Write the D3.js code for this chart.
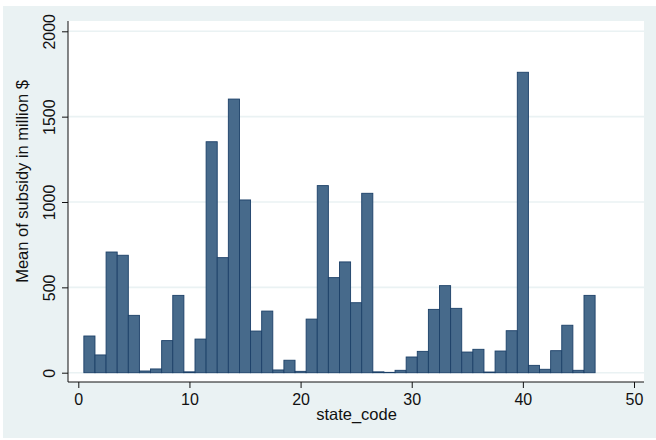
<!DOCTYPE html>
<html>
<head>
<meta charset="utf-8">
<script src="https://cdn.jsdelivr.net/npm/d3@7"></script>
<style>
  body { margin: 0; background: #fff; }
  text { font-family: "Liberation Sans", Arial, sans-serif; fill: #111; }
</style>
</head>
<body>
<div id="chart"></div>
<script>
const stateCodes = d3.range(1, 47);
const meanSubsidy = [
    215, 104, 707, 688, 336, 10, 22, 188, 453, 5,
    197, 1353, 674, 1603, 1012, 244, 361, 16, 73, 8,
    314, 1096, 557, 649, 410, 1051, 5, 2, 14, 92,
    125, 371, 510, 377, 121, 137, 4, 127, 246, 1760,
    43, 20, 129, 278, 14, 453
];
const xTicks = [0, 10, 20, 30, 40, 50];
const yTicks = [0, 500, 1000, 1500, 2000];

const width = 656, height = 440;

const svg = d3.select("#chart")
    .append("svg")
    .attr("width", width)
    .attr("height", height);

// graph region
svg.append("rect")
    .attr("x", 3).attr("y", 6)
    .attr("width", 653).attr("height", 432)
    .attr("fill", "#eaf2f3");

// plot region
const plot = { left: 68, right: 644, top: 21, bottom: 382 };
svg.append("rect")
    .attr("x", plot.left).attr("y", plot.top)
    .attr("width", plot.right - plot.left)
    .attr("height", plot.bottom - plot.top)
    .attr("fill", "#fff");

const x = d3.scaleLinear().domain([0, 50]).range([78.3, 634]);
const y = d3.scaleLinear().domain([0, 2000]).range([372.7, 31.3]);

// grid lines
svg.append("g")
    .selectAll("line")
    .data(yTicks)
    .enter()
    .append("line")
    .attr("x1", plot.left)
    .attr("x2", plot.right)
    .attr("y1", d => y(d))
    .attr("y2", d => y(d))
    .attr("stroke", "#eaf2f3")
    .attr("stroke-width", 1.6);

// bars
const bw = x(1) - x(0);
svg.append("g")
    .selectAll("rect")
    .data(stateCodes)
    .enter()
    .append("rect")
    .attr("x", (d) => x(d) - bw / 2)
    .attr("y", (d, i) => y(meanSubsidy[i]))
    .attr("width", bw)
    .attr("height", (d, i) => y(0) - y(meanSubsidy[i]))
    .attr("fill", "#476a8b")
    .attr("stroke", "#1c4068")
    .attr("stroke-width", 0.9);

// y axis
const yAxis = svg.append("g")
    .attr("transform", `translate(${plot.left},0)`)
    .call(d3.axisLeft(y).tickValues(yTicks).tickSize(6).tickPadding(0).tickFormat(d3.format("d")));
yAxis.select(".domain")
    .attr("d", `M0,${plot.top}V${plot.bottom}`)
    .attr("stroke", "#111");
yAxis.selectAll(".tick line").attr("stroke", "#111");
yAxis.selectAll(".tick text")
    .attr("transform", "rotate(-90)")
    .attr("x", 0)
    .attr("y", -13)
    .attr("dy", 0)
    .attr("text-anchor", "middle")
    .style("font-size", "16px")
    .style("fill", "#111");

// x axis
const xAxis = svg.append("g")
    .attr("transform", `translate(0,${plot.bottom})`)
    .call(d3.axisBottom(x).tickValues(xTicks).tickSize(6).tickPadding(5.5).tickFormat(d3.format("d")));
xAxis.select(".domain")
    .attr("d", `M${plot.left},0H${plot.right}`)
    .attr("stroke", "#111");
xAxis.selectAll(".tick line").attr("stroke", "#111");
xAxis.selectAll(".tick text")
    .style("font-size", "16px")
    .style("fill", "#111");

// axis titles
svg.append("text")
    .attr("x", 356.5)
    .attr("y", 420)
    .attr("text-anchor", "middle")
    .style("font-size", "16.5px")
    .text("state_code");

svg.append("text")
    .attr("transform", "translate(28,181.5) rotate(-90)")
    .attr("text-anchor", "middle")
    .style("font-size", "16.5px")
    .text("Mean of subsidy in million $");
</script>
</body>
</html>
